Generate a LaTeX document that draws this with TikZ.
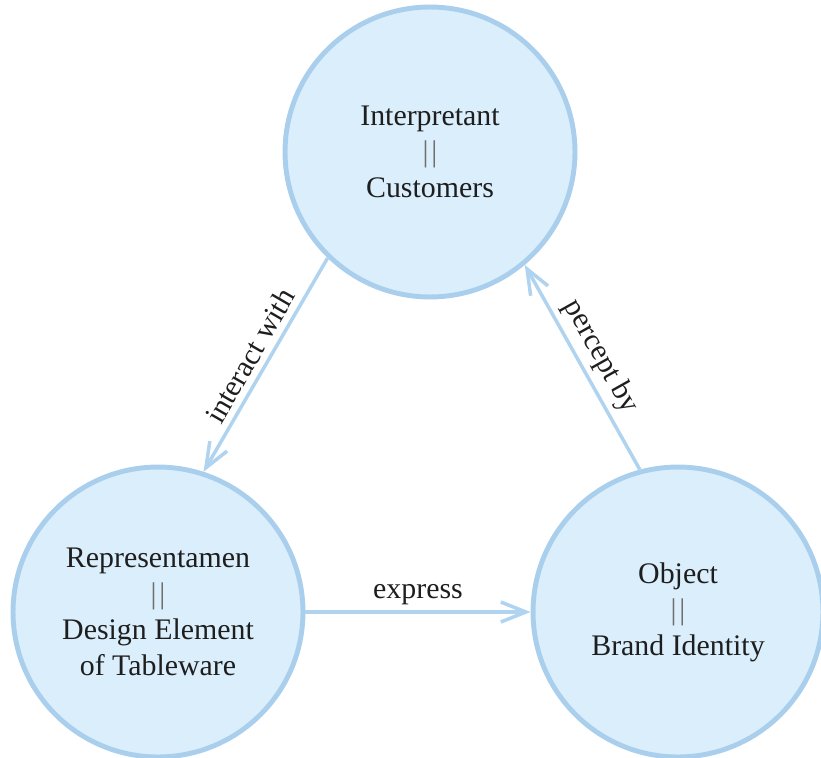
\documentclass[tikz,border=0pt]{standalone}
\usepackage{fontspec}
\setmainfont{Liberation Serif}
\usetikzlibrary{arrows.meta}

\definecolor{ringblue}{RGB}{170,207,237}
\definecolor{discblue}{RGB}{219,238,251}
\definecolor{edgeblue}{RGB}{176,212,240}
\definecolor{inkgray}{RGB}{30,30,30}
\definecolor{bargray}{RGB}{110,110,110}

\newcommand{\sameas}{{\color{bargray}|\kern1.5pt|}}

\tikzset{
  sign/.style={circle, draw=ringblue, fill=discblue, line width=2.8pt,
    minimum size=5.8cm, inner sep=0pt, align=center, text=inkgray,
    font=\fontsize{17}{20.5}\selectfont},
  rel/.style={draw=edgeblue, line width=2pt,
    -{Straight Barb[length=5mm,width=4mm]}},
  rellabel/.style={text=inkgray, font=\fontsize{17}{20.5}\selectfont}
}

\begin{document}
\begin{tikzpicture}[x=0.02cm, y=-0.02cm]
\useasboundingbox (0,0) rectangle (821,757);

\node[sign] (interp) at (430,152) {Interpretant\\\sameas\\Customers};
\node[sign] (repr) at (158,612) {Representamen\\\sameas\\Design Element\\of Tableware};
\node[sign] (obj) at (678,612) {Object\\\sameas\\Brand Identity};

\draw[rel] (interp.226) -- node[midway, sloped, above, rellabel]{interact with} (repr.72);
\draw[rel] (repr.east) -- node[above, rellabel]{express} (obj.west);
\draw[rel] (obj.105) -- node[midway, sloped, above, rellabel]{percept by} (interp.310);

\end{tikzpicture}
\end{document}
